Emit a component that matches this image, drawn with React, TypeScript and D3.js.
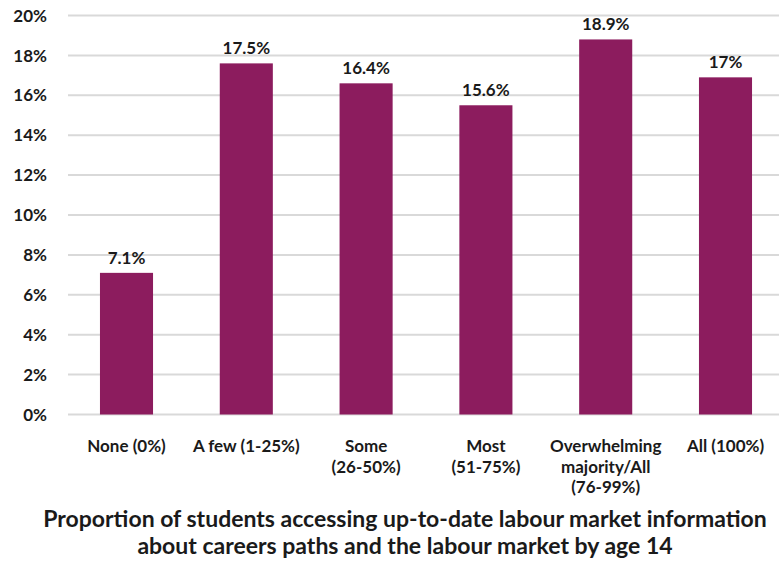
import React from "react";
import * as d3 from "d3";

const categories: string[][] = [
  ["None (0%)"],
  ["A few (1-25%)"],
  ["Some", "(26-50%)"],
  ["Most", "(51-75%)"],
  ["Overwhelming", "majority/All", "(76-99%)"],
  ["All (100%)"],
];
const values = [7.1, 17.6, 16.6, 15.5, 18.8, 16.9];
const valueLabels = ["7.1%", "17.5%", "16.4%", "15.6%", "18.9%", "17%"];
const yTicks = [0, 2, 4, 6, 8, 10, 12, 14, 16, 18, 20];
const titleLines = [
  "Proportion of students accessing up-to-date labour market information",
  "about careers paths and the labour market by age 14",
];

const W = 779;
const H = 561;
const font = "Lato, 'Open Sans', sans-serif";

export default function App() {
  const x = d3
    .scaleBand<number>()
    .domain(d3.range(categories.length))
    .range([66.6, 785.4])
    .paddingInner(0.557)
    .paddingOuter(0.2785);
  const y = d3.scaleLinear().domain([0, 20]).range([414.5, 15.5]);
  return (
    <svg
      width={W}
      height={H}
      style={{ position: "absolute", left: 0, top: 0, background: "#fff" }}
      fontFamily={font}
      fontWeight={700}
    >
      {yTicks.map((t) => (
        <g key={t}>
          <line x1={68} x2={W} y1={y(t)} y2={y(t)} stroke="#d9d9d9" strokeWidth={2} />
          <text x={47} y={y(t)} dy="0.36em" textAnchor="end" fontSize={17} fill="#1a1a1a">
            {t}%
          </text>
        </g>
      ))}
      {values.map((v, i) => (
        <g key={i}>
          <rect
            x={x(i)}
            y={y(v)}
            width={x.bandwidth()}
            height={y(0) - y(v)}
            fill="#8c1c5e"
          />
          <text
            x={(x(i) as number) + x.bandwidth() / 2}
            y={y(v) - 9}
            textAnchor="middle"
            fontSize={17}
            fill="#1a1a1a"
          >
            {valueLabels[i]}
          </text>
        </g>
      ))}
      {categories.map((lines, i) => (
        <text
          key={i}
          x={(x(i) as number) + x.bandwidth() / 2}
          y={452}
          textAnchor="middle"
          fontSize={17}
          fill="#1a1a1a"
        >
          {lines.map((l, j) => (
            <tspan key={j} x={(x(i) as number) + x.bandwidth() / 2} dy={j === 0 ? 0 : 20.5}>
              {l}
            </tspan>
          ))}
        </text>
      ))}
      {titleLines.map((l, i) => (
        <text key={i} x={405} y={526.5 + i * 27} textAnchor="middle" fontSize={23} fill="#1a1a1a">
          {l}
        </text>
      ))}
    </svg>
  );
}
